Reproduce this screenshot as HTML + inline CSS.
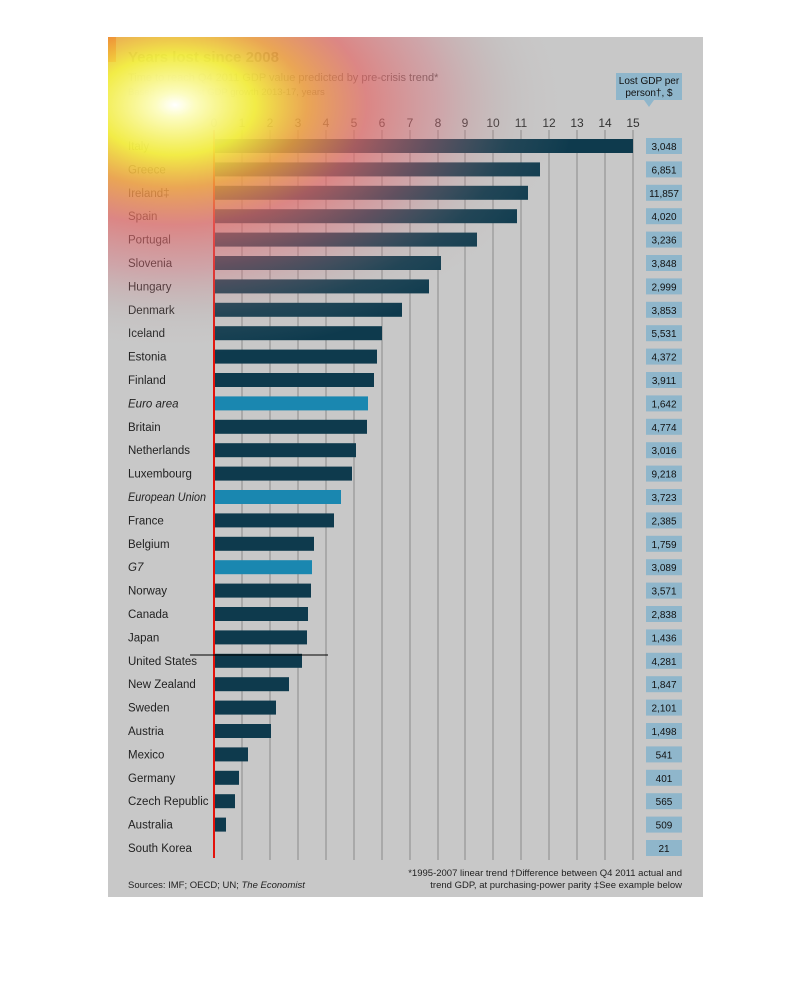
<!DOCTYPE html><html><head><meta charset="utf-8"><style>body{margin:0;background:#fff}svg{display:block}text{font-family:"Liberation Sans",sans-serif}</style></head><body>
<svg width="810" height="992" xmlns="http://www.w3.org/2000/svg">
<defs>
<radialGradient id="hg" cx="175" cy="105" r="1" gradientUnits="userSpaceOnUse" gradientTransform="translate(175 105) scale(400 250) translate(-175 -105)">
<stop offset="0" stop-color="#ffffff" stop-opacity="1"/>
<stop offset="0.05" stop-color="#fcfcc0" stop-opacity="1"/>
<stop offset="0.2" stop-color="#f4ee40" stop-opacity="0.95"/>
<stop offset="0.33" stop-color="#f0a040" stop-opacity="0.85"/>
<stop offset="0.48" stop-color="#e46a68" stop-opacity="0.7"/>
<stop offset="0.66" stop-color="#d8707a" stop-opacity="0.4"/>
<stop offset="0.85" stop-color="#b89898" stop-opacity="0.12"/>
<stop offset="1" stop-color="#c8c8c8" stop-opacity="0"/>
</radialGradient>
</defs>
<rect x="108" y="37" width="595" height="860" fill="#c8c8c8"/>
<rect x="108" y="37" width="8" height="25" fill="#e3120b"/>
<g stroke="#8a8a8a" stroke-width="1">
<line x1="242" y1="130" x2="242" y2="860"/><line x1="270" y1="130" x2="270" y2="860"/><line x1="298" y1="130" x2="298" y2="860"/><line x1="326" y1="130" x2="326" y2="860"/><line x1="354" y1="130" x2="354" y2="860"/><line x1="382" y1="130" x2="382" y2="860"/><line x1="410" y1="130" x2="410" y2="860"/><line x1="438" y1="130" x2="438" y2="860"/><line x1="465" y1="130" x2="465" y2="860"/><line x1="493" y1="130" x2="493" y2="860"/><line x1="521" y1="130" x2="521" y2="860"/><line x1="549" y1="130" x2="549" y2="860"/><line x1="577" y1="130" x2="577" y2="860"/><line x1="605" y1="130" x2="605" y2="860"/><line x1="633" y1="130" x2="633" y2="860"/>
</g>
<g font-size="12" fill="#333" text-anchor="middle">
<text x="214" y="127">0</text><text x="242" y="127">1</text><text x="270" y="127">2</text><text x="298" y="127">3</text><text x="326" y="127">4</text><text x="354" y="127">5</text><text x="382" y="127">6</text><text x="410" y="127">7</text><text x="438" y="127">8</text><text x="465" y="127">9</text><text x="493" y="127">10</text><text x="521" y="127">11</text><text x="549" y="127">12</text><text x="577" y="127">13</text><text x="605" y="127">14</text><text x="633" y="127">15</text>
</g>
<g id="rows" font-size="11.5" fill="#222"></g>
<line x1="214" y1="130" x2="214" y2="858" stroke="#e3120b" stroke-width="2"/>
<line x1="190" y1="655" x2="328" y2="655" stroke="#000" stroke-width="1"/>
<rect x="616" y="73" width="66" height="27" fill="#8fb6cb"/>
<polygon points="644,100 654,100 649,107" fill="#8fb6cb"/>
<text x="649" y="84" font-size="10" fill="#111" text-anchor="middle">Lost GDP per</text>
<text x="649" y="96" font-size="10" fill="#111" text-anchor="middle">person†, $</text>
<text x="128" y="62" font-size="15" font-weight="bold" fill="#555">Years lost since 2008</text>
<text x="128" y="81" font-size="11" fill="#555">Time to reach Q4 2011 GDP value predicted by pre-crisis trend*</text>
<text x="128" y="95" font-size="9.5" fill="#555">Based on forecast GDP growth 2013-17, years</text>
<text x="682" y="876" font-size="9.5" fill="#222" text-anchor="end">*1995-2007 linear trend  †Difference between Q4 2011 actual and</text>
<text x="682" y="888" font-size="9.5" fill="#222" text-anchor="end">trend GDP, at purchasing-power parity  ‡See example below</text>
<text x="128" y="888" font-size="9.5" fill="#222">Sources: IMF; OECD; UN; <tspan font-style="italic">The Economist</tspan></text>
<rect x="108" y="37" width="595" height="400" fill="url(#hg)"/>
</svg>
<script>
var d=[["Italy",633,"3,048"],["Greece",540,"6,851"],["Ireland‡",528,"11,857"],["Spain",517,"4,020"],["Portugal",477,"3,236"],["Slovenia",441,"3,848"],["Hungary",429,"2,999"],["Denmark",402,"3,853"],["Iceland",382,"5,531"],["Estonia",377,"4,372"],["Finland",374,"3,911"],["Euro area",368,"1,642",1],["Britain",367,"4,774"],["Netherlands",356,"3,016"],["Luxembourg",352,"9,218"],["European Union",341,"3,723",1],["France",334,"2,385"],["Belgium",314,"1,759"],["G7",312,"3,089",1],["Norway",311,"3,571"],["Canada",308,"2,838"],["Japan",307,"1,436"],["United States",302,"4,281"],["New Zealand",289,"1,847"],["Sweden",276,"2,101"],["Austria",271,"1,498"],["Mexico",248,"541"],["Germany",239,"401"],["Czech Republic",235,"565"],["Australia",226,"509"],["South Korea",214,"21"]];
var g=document.getElementById("rows"),s="";
d.forEach(function(r,i){var y=146+i*23.4;
s+='<rect x="214" y="'+(y-7)+'" width="'+(r[1]-214)+'" height="14" fill="'+(r[3]?"#1a87b0":"#0e3a4d")+'"/>';
s+='<text x="128" y="'+(y+4)+'"'+(r[3]?' font-style="italic"':'')+(r[0]=="European Union"?' textLength="78" lengthAdjust="spacingAndGlyphs"':'')+'>'+r[0]+'</text>';
s+='<rect x="646" y="'+(y-8)+'" width="36" height="16" fill="#8fb6cb"/>';
s+='<text x="664" y="'+(y+4)+'" font-size="10" text-anchor="middle" fill="#111">'+r[2]+'</text>';});
g.innerHTML=s;
</script>
</body></html>
